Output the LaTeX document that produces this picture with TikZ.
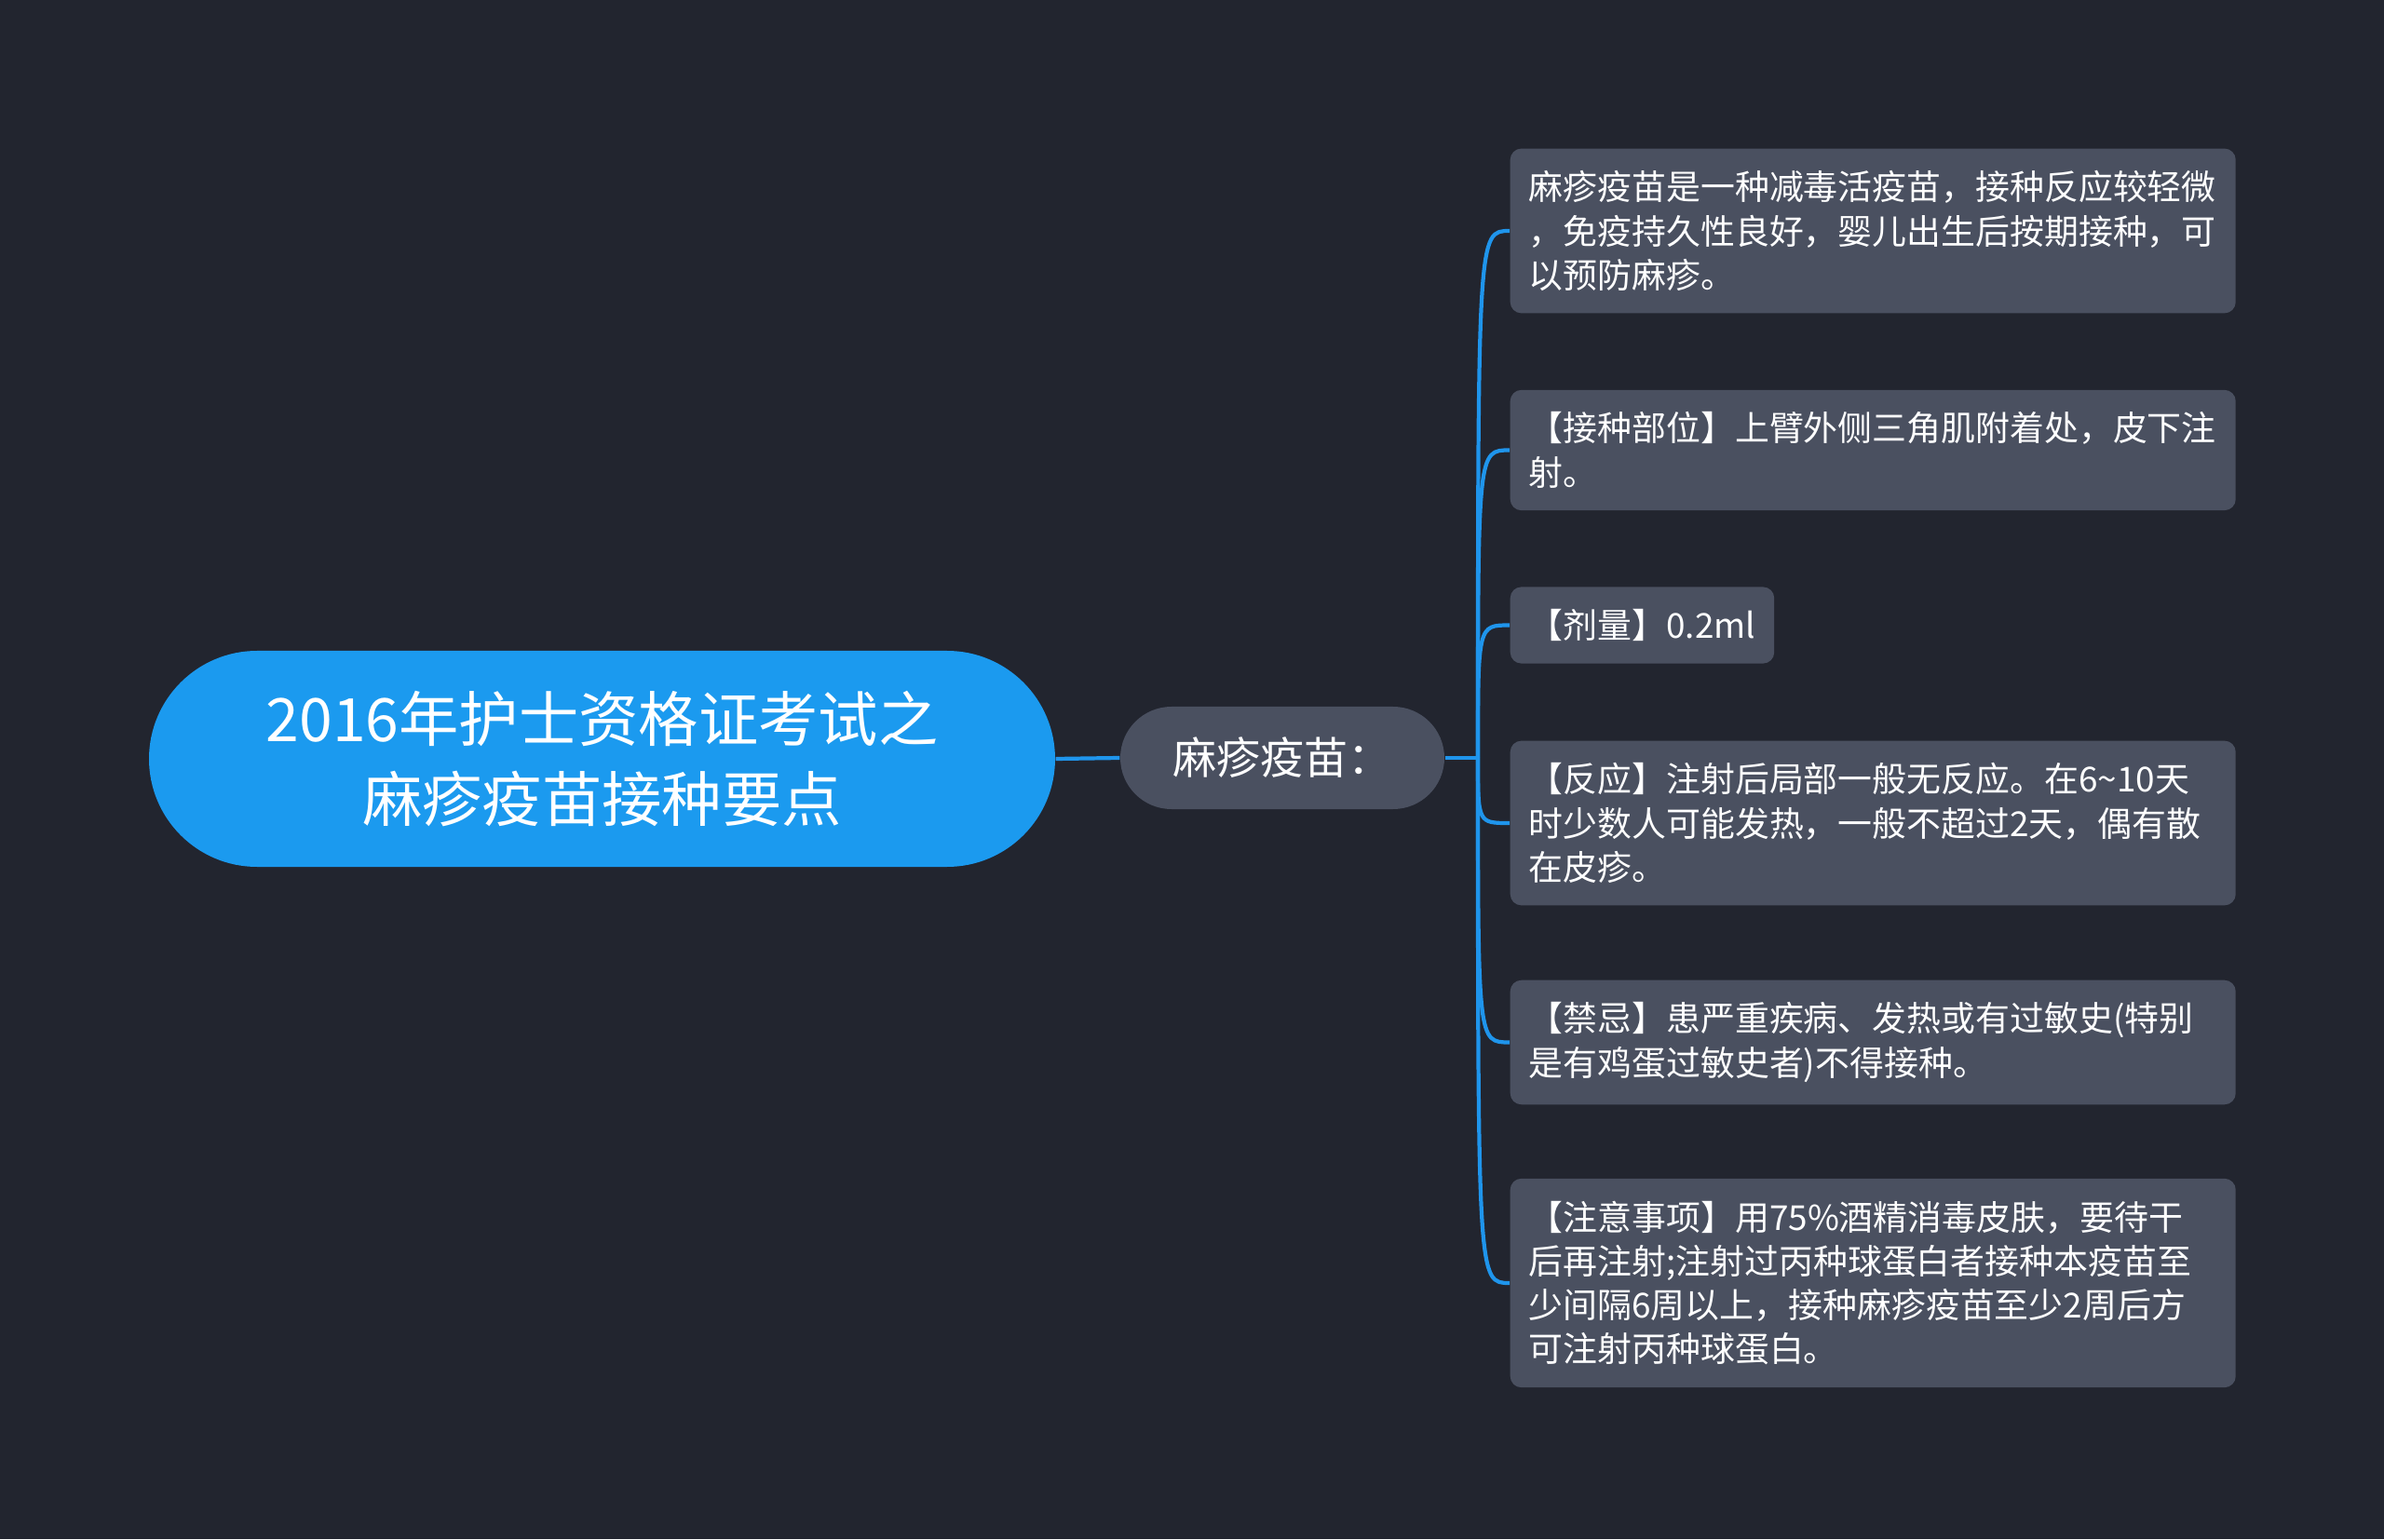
\documentclass[tikz,border=0pt]{standalone}
\usepackage{fontspec}
\setmainfont{Noto Sans CJK SC}
\usetikzlibrary{positioning}
\definecolor{bgnavy}{HTML}{22252F}
\definecolor{rootblue}{HTML}{1B9AEF}
\definecolor{boxgray}{HTML}{4A5060}
\definecolor{linkblue}{HTML}{1F95EC}
\tikzset{
  rootnode/.style={fill=rootblue, text=white, rounded corners=1.16cm,
    minimum width=9.73cm, minimum height=2.32cm, align=center,
    font=\fontsize{18.3pt}{24.2pt}\selectfont},
  midnode/.style={fill=boxgray, text=white, rounded corners=0.55cm,
    minimum width=3.48cm, minimum height=1.10cm,
    font=\fontsize{13.4pt}{15pt}\selectfont},
  leafnode/.style={fill=boxgray, text=white, rounded corners=0.12cm,
    anchor=west, align=left, inner xsep=0.2cm, inner ysep=6.8pt,
    font=\fontsize{10.5pt}{13.45pt}\selectfont},
  wideleaf/.style={leafnode, text width=7.39cm},
  link/.style={draw=linkblue, line width=1.2pt}
}
\begin{document}
\begin{tikzpicture}

%фон
\fill[bgnavy] (0,0) rectangle (25.6,16.53);
\useasboundingbox (0,0) rectangle (25.6,16.53);

%центр
\node[rootnode] (root) at (6.465,8.38) {2016年护士资格证考试之\\麻疹疫苗接种要点};
\node[midnode] (vac) at (13.77,8.39) {麻疹疫苗：};
\coordinate (fork) at (15.87,8.39);

%листья
\node[wideleaf] (l1) at (16.21,14.05) {麻疹疫苗是一种减毒活疫苗，接种反应较轻微\\，免疫持久性良好，婴儿出生后按期接种，可\\以预防麻疹。};
\node[wideleaf] (l2) at (16.21,11.695) {【接种部位】上臂外侧三角肌附着处，皮下注\\射。};
\node[leafnode] (l3) at (16.21,9.815) {【剂量】0.2ml};
\node[wideleaf] (l4) at (16.21,7.69) {【反应】注射后局部一般无反应。在6\textasciitilde10天\\时少数人可能发热，一般不超过2天，偶有散\\在皮疹。};
\node[wideleaf] (l5) at (16.21,5.335) {【禁忌】患严重疾病、发热或有过敏史(特别\\是有鸡蛋过敏史者)不得接种。};
\node[wideleaf] (l6) at (16.21,2.75) {【注意事项】用75\%酒精消毒皮肤，要待干\\后再注射;注射过丙种球蛋白者接种本疫苗至\\少间隔6周以上，接种麻疹疫苗至少2周后方\\可注射丙种球蛋白。};

%связи
\draw[link] (root.east) -- (vac.west);
\draw[link] (vac.east) -- (fork);
\foreach \leaf in {l1,l2,l3,l4,l5,l6}
  \draw[link] (fork) .. controls (fork |- \leaf.west) .. (\leaf.west);

\end{tikzpicture}
\end{document}
